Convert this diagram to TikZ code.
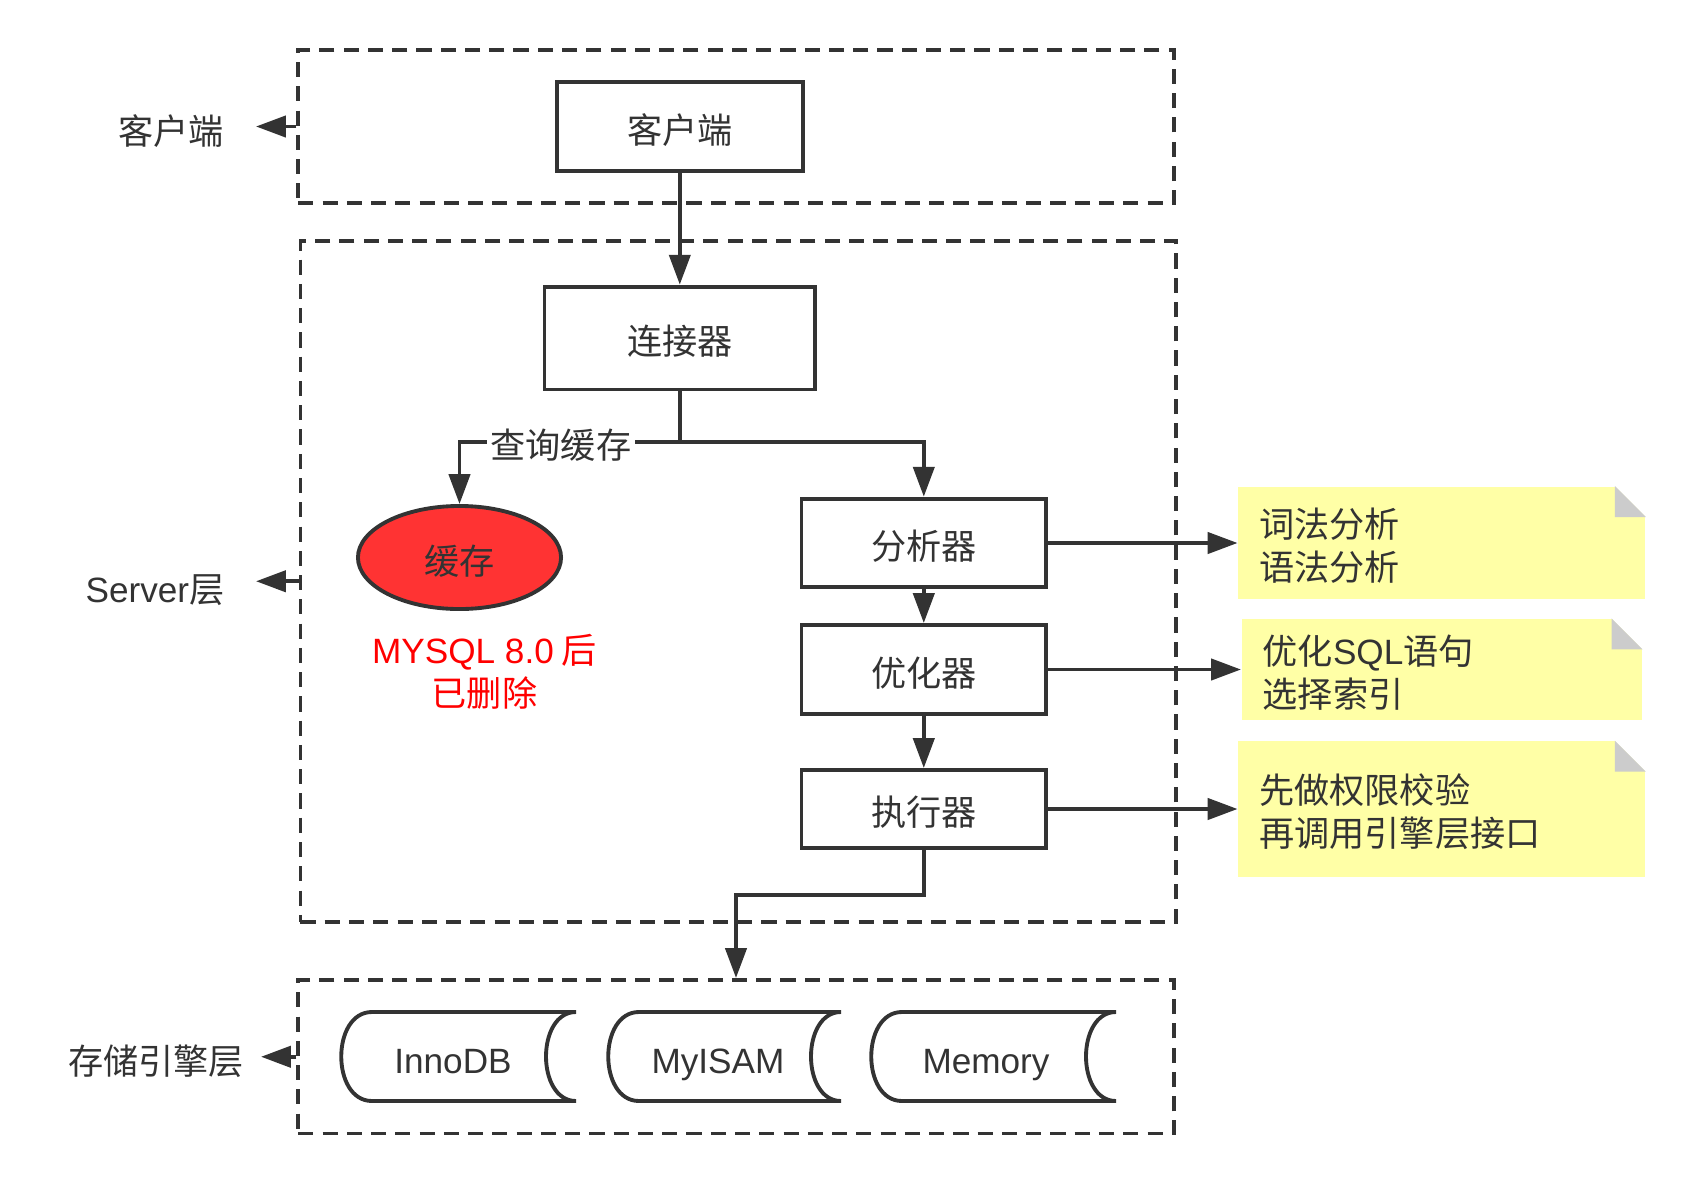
\documentclass[tikz,border=0pt]{standalone}
\usepackage{fontspec}
\setmainfont{Noto Sans CJK SC}
\newfontfamily\latinfont{Liberation Sans}
\usepackage{tikz}
\usetikzlibrary{arrows.meta}
\usetikzlibrary{shapes.geometric}
\definecolor{linegray}{HTML}{333333}
\definecolor{cachered}{HTML}{FF3333}
\definecolor{noteyellow}{HTML}{FFFFA6}
\definecolor{foldgray}{HTML}{CCCCCC}
\tikzset{
  layer/.style={draw=linegray, line width=1.1pt, dash pattern=on 4.3pt off 2.6pt, rectangle},
  box/.style={draw=linegray, line width=1.1pt, rectangle},
  drum/.style={draw=linegray, line width=1.1pt},
  arr/.style={draw=linegray, line width=1.1pt, -{Triangle[length=8.5pt,width=6pt]}},
  oneline/.style={text height=1em, text depth=0.04em},
  note/.style={fill=noteyellow, align=left, inner xsep=0.21cm},
}

\begin{document}
\begin{tikzpicture}[x=0.01cm, y=-0.01cm, every node/.style={font=\fontsize{10}{12.3}\selectfont, text=linegray}]
				\useasboundingbox (0,0) rectangle (1696,1184);
				% layers
				\node[layer, minimum width=8.75cm, minimum height=1.535cm] (clientL) at (736,126.5) {};
				\node[layer, minimum width=8.75cm, minimum height=6.805cm] (serverL) at (738.2,581.25) {};
				\node[layer, minimum width=8.75cm, minimum height=1.535cm] (storeL) at (736,1056.75) {};
				\node[oneline] (clientT) at (171,128) {客户端};
				\node[oneline] (serverT) at (155,586) {{\latinfont Server}层};
				\node[oneline] (storeT) at (156,1058) {存储引擎层};
				\coordinate (clientTip) at (256,126.5);
				\coordinate (serverTip) at (256,581.25);
				\coordinate (storeTip) at (261,1056.75);
				\draw[arr] (clientL.west) -- (clientTip);
				\draw[arr] (serverL.west) -- (serverTip);
				\draw[arr] (storeL.west) -- (storeTip);
				% boxes
				\node[box, oneline, minimum width=2.456cm, minimum height=0.89cm] (client) at (679.8,126.5) {客户端};
				\node[box, oneline, minimum width=2.705cm, minimum height=1.028cm] (conn) at (679.8,338) {连接器};
				\node[ellipse, oneline, draw=linegray, line width=1.1pt, fill=cachered, minimum width=2.03cm, minimum height=1.03cm] (cache) at (459.5,557.5) {缓存};
				\node[text=red, align=center] (gone) at (484.5,671.5) {{\latinfont MYSQL 8.0} 后\\已删除};
				\node[box, oneline, minimum width=2.445cm, minimum height=0.887cm] (ana) at (923.8,543) {分析器};
				\node[box, oneline, minimum width=2.445cm, minimum height=0.89cm] (opt) at (923.8,669.5) {优化器};
				\node[box, oneline, minimum width=2.445cm, minimum height=0.78cm] (exe) at (923.8,809) {执行器};
				% notes
				\node[note, minimum height=1.125cm, text width=3.646cm] (n1) at (1441.7,543) {\raisebox{-0.08em}[\height][\depth]{\parbox{3.646cm}{词法分析\\语法分析}}};
				\node[note, minimum height=1.006cm, text width=3.58cm] (n2) at (1441.8,669.5) {\raisebox{-0.08em}[\height][\depth]{\parbox{3.58cm}{优化{\latinfont SQL}语句\\选择索引}}};
				\node[note, minimum height=1.352cm, text width=3.646cm] (n3) at (1441.7,809) {\raisebox{-0.08em}[\height][\depth]{\parbox{3.646cm}{先做权限校验\\再调用引擎层接口}}};
				\fill[white] ([xshift=-0.31cm]n1.north east) -- (n1.north east) -- ([yshift=-0.31cm]n1.north east) -- cycle;
				\fill[foldgray] ([xshift=-0.31cm]n1.north east) -- ([xshift=-0.31cm,yshift=-0.31cm]n1.north east) -- ([yshift=-0.31cm]n1.north east) -- cycle;
				\fill[white] ([xshift=-0.31cm]n2.north east) -- (n2.north east) -- ([yshift=-0.31cm]n2.north east) -- cycle;
				\fill[foldgray] ([xshift=-0.31cm]n2.north east) -- ([xshift=-0.31cm,yshift=-0.31cm]n2.north east) -- ([yshift=-0.31cm]n2.north east) -- cycle;
				\fill[white] ([xshift=-0.31cm]n3.north east) -- (n3.north east) -- ([yshift=-0.31cm]n3.north east) -- cycle;
				\fill[foldgray] ([xshift=-0.31cm]n3.north east) -- ([xshift=-0.31cm,yshift=-0.31cm]n3.north east) -- ([yshift=-0.31cm]n3.north east) -- cycle;
				% connectors
				\draw[arr] (client) -- (conn);
				\draw[arr] (conn.south) -- ++(0,50.6) coordinate (split) -| node[oneline, fill=white, inner sep=1pt, pos=0.27] (qlbl) {查询缓存} (cache.north);
				\draw[arr] (split) -| (ana.north);
				\draw[arr] (ana) -- (opt);
				\draw[arr] (opt) -- (exe);
				\draw[arr] (exe.south) -- ++(0,45.4) -| (storeL.north);
				\draw[arr] (ana) -- (n1);
				\draw[arr] (opt) -- (n2);
				\draw[arr] (exe) -- (n3);
				% storage engines
				\draw[drum] (372,1012) -- (576,1012) .. controls (536,1012) and (536,1101) .. (576,1101) -- (372,1101) .. controls (331,1101) and (331,1012) .. (372,1012) -- cycle;
				\node[oneline] (inno) at (453,1057) {\latinfont InnoDB};
				\draw[drum] (639,1012) -- (841,1012) .. controls (801,1012) and (801,1101) .. (841,1101) -- (639,1101) .. controls (598,1101) and (598,1012) .. (639,1012) -- cycle;
				\node[oneline] (myisam) at (718,1057) {\latinfont MyISAM};
				\draw[drum] (902,1012) -- (1116,1012) .. controls (1076,1012) and (1076,1101) .. (1116,1101) -- (902,1101) .. controls (861,1101) and (861,1012) .. (902,1012) -- cycle;
				\node[oneline] (memory) at (986,1057) {\latinfont Memory};
			\end{tikzpicture}
\end{document}
